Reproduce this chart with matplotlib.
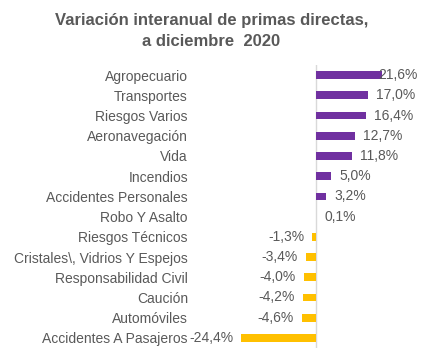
import matplotlib.pyplot as plt

# data
categories = ["Agropecuario", "Transportes", "Riesgos Varios", "Aeronavegación",
              "Vida", "Incendios", "Accidentes Personales", "Robo Y Asalto",
              "Riesgos Técnicos", "Cristales\\, Vidrios Y Espejos",
              "Responsabilidad Civil", "Caución", "Automóviles",
              "Accidentes A Pasajeros"]
values = [21.6, 17.0, 16.4, 12.7, 11.8, 5.0, 3.2, 0.1,
          -1.3, -3.4, -4.0, -4.2, -4.6, -24.4]

purple = "#7030A0"
gold = "#FFC000"
txt = "#595959"

plt.rcParams["font.family"] = ["Liberation Sans", "DejaVu Sans"]

fig = plt.figure(figsize=(4.23, 3.63), dpi=100)
W, H = 423, 363
# axes placed in pixels: left 224, right 420, top 65, bottom 348
ax = fig.add_axes([224 / W, 15 / H, 196 / W, 283 / H])

y = list(range(len(categories)))
colors = [purple if v >= 0 else gold for v in values]
ax.barh(y, values, height=0.38, color=colors, zorder=2)

ax.set_xlim(-30, 33.84)
ax.set_ylim(len(categories) - 0.5, -0.5)
ax.axvline(0, color="#D9D9D9", lw=1, zorder=1)

ax.set_yticks(y)
ax.set_yticklabels(categories, fontsize=10, color=txt)
ax.tick_params(axis="y", length=0, pad=26)
ax.set_xticks([])
for s in ax.spines.values():
    s.set_visible(False)

gap = 2.6
for yi, v in zip(y, values):
    lab = f"{v:.1f}%".replace(".", ",")
    if v >= 0:
        xt = v + gap
        if xt > 20:
            ax.text(33.2, yi, lab, ha="right", va="center", fontsize=10, color=txt)
        else:
            ax.text(xt, yi, lab, ha="left", va="center", fontsize=10, color=txt)
    else:
        ax.text(v - gap, yi, lab, ha="right", va="center", fontsize=10, color=txt)

fig.text(0.5, 1 - 31 / H, "Variación interanual de primas directas,\na diciembre  2020",
         ha="center", va="center", fontsize=12, fontweight="bold", color=txt,
         linespacing=1.45)

fig.savefig("out.png", dpi=100)
